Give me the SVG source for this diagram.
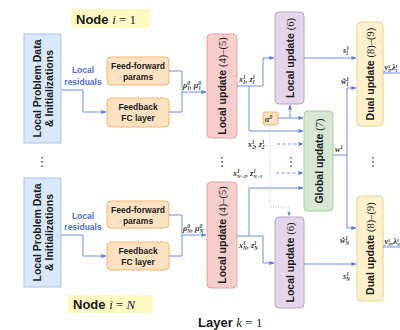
<svg xmlns="http://www.w3.org/2000/svg" width="400" height="330" viewBox="0 0 400 330">
<defs>
<marker id="ar" viewBox="0 0 6 6" refX="5.5" refY="3" markerWidth="5" markerHeight="5" orient="auto">
<path d="M0,0.5 L6,3 L0,5.5 z" fill="#5f7fe3"/>
</marker>
<style>
.lpd{fill:#dae8fc;stroke:#a9c3ea;stroke-width:1}
.org{fill:#fde2c2;stroke:#efb575;stroke-width:1}
.red{fill:#f8cecc;stroke:#e3a3a1;stroke-width:1}
.pur{fill:#e3d6ea;stroke:#b9a3cc;stroke-width:1}
.grn{fill:#d6e8d3;stroke:#a9cba2;stroke-width:1}
.yel{fill:#fff2cc;stroke:#e9d08e;stroke-width:1}
.hl{fill:#fffac4}
.b{font-family:"Liberation Sans",Arial,sans-serif;font-weight:bold;fill:#1a1a1a}
.m{font-family:"Liberation Serif","Times New Roman",serif;fill:#1a1a1a}
.mi{font-family:"Liberation Serif","Times New Roman",serif;font-style:italic;font-weight:bold;fill:#333;font-size:8px}
.res{font-family:"Liberation Sans",Arial,sans-serif;font-weight:bold;fill:#4d6fe0;font-size:8.5px}
.ln{fill:none;stroke:#6c8ee8;stroke-width:1}
.ds{fill:none;stroke:#6c8ee8;stroke-width:1;stroke-dasharray:3,2.5}
.dt{fill:none;stroke:#93aaf0;stroke-width:0.8;stroke-dasharray:1,1.5}
.dots{font-family:"DejaVu Sans",sans-serif;font-size:13px;fill:#444}
</style>
</defs>
<rect width="400" height="330" fill="#ffffff"/>

<!-- labels -->
<g id="node1-label">
<rect class="hl" x="71" y="9" width="79" height="19"/>
<text x="76" y="24" font-size="13"><tspan class="b">Node </tspan><tspan class="m" font-style="italic">i</tspan><tspan class="m"> = 1</tspan></text>
</g>
<g id="nodeN-label">
<rect class="hl" x="68" y="295" width="85" height="18"/>
<text x="73" y="309" font-size="13"><tspan class="b">Node </tspan><tspan class="m" font-style="italic">i</tspan><tspan class="m"> = </tspan><tspan class="m" font-style="italic">N</tspan></text>
</g>
<g id="layer-label">
<text x="198" y="327" font-size="13"><tspan class="b">Layer </tspan><tspan class="m" font-style="italic">k</tspan><tspan class="m"> = 1</tspan></text>
</g>

<!-- Block 1 -->
<g id="lpd1">
<rect class="lpd" x="24" y="34" width="37" height="109"/>
<text class="b" font-size="10.5" text-anchor="middle" transform="translate(40.5,88.5) rotate(-90)">Local Problem Data</text>
<text class="b" font-size="10.5" text-anchor="middle" transform="translate(52.5,88.5) rotate(-90)">&amp; Initializations</text>
</g>
<g id="ff1">
<rect class="org" x="107" y="57" width="62" height="28" rx="4"/>
<text class="b" font-size="8.5" text-anchor="middle" x="138" y="69">Feed-forward</text>
<text class="b" font-size="8.5" text-anchor="middle" x="138" y="80">params</text>
</g>
<g id="fb1">
<rect class="org" x="107" y="98" width="62" height="29" rx="4"/>
<text class="b" font-size="8.5" text-anchor="middle" x="138" y="110">Feedback</text>
<text class="b" font-size="8.5" text-anchor="middle" x="138" y="121">FC layer</text>
</g>
<g id="lu45-1">
<rect class="red" x="207" y="34" width="30" height="104" rx="4"/>
<text font-size="10.5" text-anchor="middle" transform="translate(226,86) rotate(-90)"><tspan class="b">Local update </tspan><tspan class="m">(4)–(5)</tspan></text>
</g>
<g id="lu6-1">
<rect class="pur" x="275" y="12" width="29" height="92" rx="4"/>
<text font-size="10.5" text-anchor="middle" transform="translate(293.5,58) rotate(-90)"><tspan class="b">Local update </tspan><tspan class="m">(6)</tspan></text>
</g>
<g id="du-1">
<rect class="yel" x="357" y="22" width="26" height="104" rx="4"/>
<text font-size="10.5" text-anchor="middle" transform="translate(374,74) rotate(-90)"><tspan class="b">Dual update </tspan><tspan class="m">(8)–(9)</tspan></text>
</g>

<!-- Global -->
<g id="global">
<rect class="grn" x="304" y="111" width="29" height="100" rx="4"/>
<text font-size="10.5" text-anchor="middle" transform="translate(322.5,161) rotate(-90)"><tspan class="b">Global update </tspan><tspan class="m">(7)</tspan></text>
</g>
<g id="alpha">
<rect class="org" x="263" y="112" width="15" height="13" rx="2"/>
<text class="mi" x="265" y="122" font-size="8.5">α<tspan font-size="5.5" dy="-3">0</tspan></text>
</g>

<!-- Block N -->
<g id="lpdN">
<rect class="lpd" x="24" y="178" width="37" height="109"/>
<text class="b" font-size="10.5" text-anchor="middle" transform="translate(40.5,232.5) rotate(-90)">Local Problem Data</text>
<text class="b" font-size="10.5" text-anchor="middle" transform="translate(52.5,232.5) rotate(-90)">&amp; Initializations</text>
</g>
<g id="ffN">
<rect class="org" x="107" y="201" width="62" height="27" rx="4"/>
<text class="b" font-size="8.5" text-anchor="middle" x="138" y="213">Feed-forward</text>
<text class="b" font-size="8.5" text-anchor="middle" x="138" y="224">params</text>
</g>
<g id="fbN">
<rect class="org" x="107" y="242" width="62" height="28" rx="4"/>
<text class="b" font-size="8.5" text-anchor="middle" x="138" y="254">Feedback</text>
<text class="b" font-size="8.5" text-anchor="middle" x="138" y="265">FC layer</text>
</g>
<g id="lu45-N">
<rect class="red" x="207" y="182" width="30" height="106" rx="4"/>
<text font-size="10.5" text-anchor="middle" transform="translate(226,235) rotate(-90)"><tspan class="b">Local update </tspan><tspan class="m">(4)–(5)</tspan></text>
</g>
<g id="lu6-N">
<rect class="pur" x="275" y="217" width="29" height="91" rx="4"/>
<text font-size="10.5" text-anchor="middle" transform="translate(293.5,262.5) rotate(-90)"><tspan class="b">Local update </tspan><tspan class="m">(6)</tspan></text>
</g>
<g id="du-N">
<rect class="yel" x="357" y="196" width="26" height="105" rx="4"/>
<text font-size="10.5" text-anchor="middle" transform="translate(374,248.5) rotate(-90)"><tspan class="b">Dual update </tspan><tspan class="m">(8)–(9)</tspan></text>
</g>

<!-- connectors -->
<g id="connectors">
<path class="ln" d="M61,90 H83 V112 H106" marker-end="url(#ar)"/>
<path class="ln" d="M169,71 H182 V112 H169"/>
<path class="ln" d="M182,92 H206" marker-end="url(#ar)"/>
<path class="ln" d="M237,86 H263 V58 H274" marker-end="url(#ar)"/>
<path class="ln" d="M249,86 V131 H303" marker-end="url(#ar)"/>
<path class="ln" d="M304,58 H356" marker-end="url(#ar)"/>
<path class="ln" d="M278,118 H303" marker-end="url(#ar)"/>
<path class="ln" d="M290,118 V105" marker-end="url(#ar)"/>
<path class="ds" d="M277,144 H303" marker-end="url(#ar)"/>
<path class="ds" d="M276,173 H303" marker-end="url(#ar)"/>
<path class="dt" d="M270,125 V207 H289 V216" marker-end="url(#ar)"/>
<path class="ln" d="M333,155 H347 V88 H356" marker-end="url(#ar)"/>
<path class="ln" d="M347,155 V228 H356" marker-end="url(#ar)"/>
<path class="ln" d="M383,73 H400"/>

<path class="ln" d="M61,235 H83 V256 H106" marker-end="url(#ar)"/>
<path class="ln" d="M169,215 H182 V256 H169"/>
<path class="ln" d="M182,235 H206" marker-end="url(#ar)"/>
<path class="ln" d="M237,236 H249 V188 H303" marker-end="url(#ar)"/>
<path class="ln" d="M249,236 H263 V263 H274" marker-end="url(#ar)"/>
<path class="ln" d="M304,264 H356" marker-end="url(#ar)"/>
<path class="ln" d="M383,247 H400"/>
</g>

<!-- connector labels -->
<g id="labels">
<text class="res" x="83" y="73" text-anchor="middle">Local</text>
<text class="res" x="83" y="85" text-anchor="middle">residuals</text>
<text class="res" x="83" y="219" text-anchor="middle">Local</text>
<text class="res" x="83" y="230" text-anchor="middle">residuals</text>

<text class="mi" font-weight="normal" x="183" y="88">ρ<tspan font-size="5.5" dy="-3">0</tspan><tspan font-size="5.5" dx="-2.8" dy="5">1</tspan><tspan dy="-2">, μ</tspan><tspan font-size="5.5" dy="-3">0</tspan><tspan font-size="5.5" dx="-2.8" dy="5">1</tspan></text>
<text class="mi" font-weight="normal" x="183" y="231">ρ<tspan font-size="5.5" dy="-3">0</tspan><tspan font-size="5.5" dx="-2.8" dy="5">N</tspan><tspan dy="-2">, μ</tspan><tspan font-size="5.5" dy="-3">0</tspan><tspan font-size="5.5" dx="-2.8" dy="5">N</tspan></text>

<text class="mi" x="239" y="82">x<tspan font-size="5.5" dy="-3">1</tspan><tspan font-size="5.5" dx="-2.8" dy="5">1</tspan><tspan dy="-2">, z</tspan><tspan font-size="5.5" dy="-3">1</tspan><tspan font-size="5.5" dx="-2.8" dy="5">1</tspan></text>
<text class="mi" x="239" y="248">x<tspan font-size="5.5" dy="-3">1</tspan><tspan font-size="5.5" dx="-2.8" dy="5">N</tspan><tspan dy="-2">, z</tspan><tspan font-size="5.5" dy="-3">1</tspan><tspan font-size="5.5" dx="-2.8" dy="5">N</tspan></text>
<text class="mi" x="248" y="147">x<tspan font-size="5.5" dy="-3">1</tspan><tspan font-size="5.5" dx="-2.8" dy="5">2</tspan><tspan dy="-2">, z</tspan><tspan font-size="5.5" dy="-3">1</tspan><tspan font-size="5.5" dx="-2.8" dy="5">2</tspan></text>
<text class="mi" x="233" y="176">x<tspan font-size="5.5" dy="-3">1</tspan><tspan font-size="5" dx="-2.8" dy="5">N−1</tspan><tspan dy="-2">, z</tspan><tspan font-size="5.5" dy="-3">1</tspan><tspan font-size="5" dx="-2.8" dy="5">N−1</tspan></text>

<text class="mi" x="343" y="53">s<tspan font-size="5.5" dy="-3">1</tspan><tspan font-size="5.5" dx="-2.8" dy="5">1</tspan></text>
<text class="mi" x="343" y="279">s<tspan font-size="5.5" dy="-3">1</tspan><tspan font-size="5.5" dx="-2.8" dy="5">N</tspan></text>
<text class="mi" x="341" y="84">w̃<tspan font-size="5.5" dy="-3">1</tspan><tspan font-size="5.5" dx="-2.8" dy="5">1</tspan></text>
<text class="mi" x="340" y="243">w̃<tspan font-size="5.5" dy="-3">1</tspan><tspan font-size="5.5" dx="-2.8" dy="5">N</tspan></text>
<text class="mi" x="335" y="152">w<tspan font-size="5.5" dy="-3">1</tspan></text>
<text class="mi" x="384.5" y="70" font-size="6.5">y<tspan font-size="4.5" dy="-2.5">1</tspan><tspan font-size="4.5" dx="-2.3" dy="4">1</tspan><tspan dy="-1.5">,λ</tspan><tspan font-size="4.5" dy="-2.5">1</tspan><tspan font-size="4.5" dx="-2.3" dy="4">1</tspan></text>
<text class="mi" x="384.5" y="244" font-size="6.5">y<tspan font-size="4.5" dy="-2.5">1</tspan><tspan font-size="4.5" dx="-2.3" dy="4">N</tspan><tspan dy="-1.5">,λ</tspan><tspan font-size="4.5" dy="-2.5">1</tspan><tspan font-size="4.5" dx="-2.3" dy="4">N</tspan></text>

<text class="dots" x="42" y="166" text-anchor="middle">⋮</text>
<text class="dots" x="222" y="166" text-anchor="middle">⋮</text>
<text class="dots" x="291" y="166" text-anchor="middle">⋮</text>
<text class="dots" x="373" y="166" text-anchor="middle">⋮</text>
</g>
</svg>
